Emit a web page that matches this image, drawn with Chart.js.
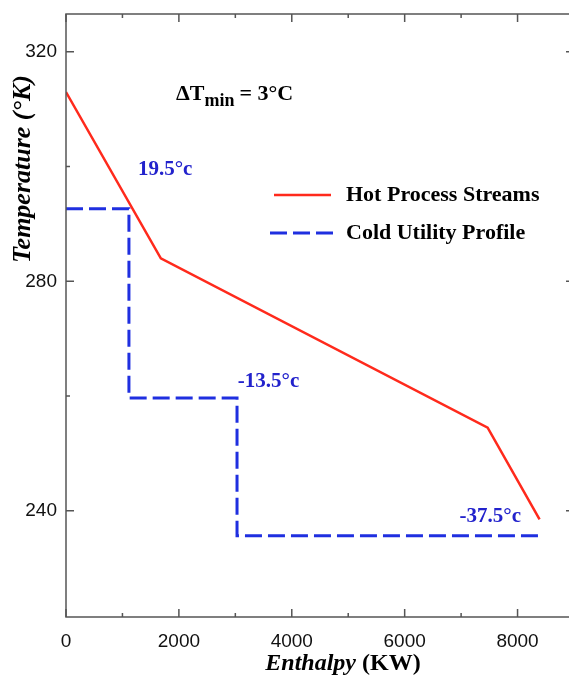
<!DOCTYPE html>
<html>
<head>
<meta charset="utf-8">
<script src="https://cdn.jsdelivr.net/npm/chart.js@4.4.1/dist/chart.umd.min.js"></script>
<style>
  html, body { margin: 0; padding: 0; background: #ffffff; overflow: hidden; }
  #wrap { position: absolute; left: 0; top: 0; width: 580px; height: 675px; }
</style>
</head>
<body>
<div id="wrap"><canvas id="chartCanvas" width="580" height="675"></canvas></div>
<script>
// Chart data

var hotX = [0, 1680, 7470, 8390]
var hotY = [313, 284, 254.5, 238.5]

var coldX = [0, 1115, 1115, 3030, 3030, 8390]
var coldY = [292.65, 292.65, 259.65, 259.65, 235.65, 235.65]

var xTicks = [0, 2000, 4000, 6000, 8000]
var yTicks = [240, 280, 320]
var xMinor = [1000, 3000, 5000, 7000, 9000]
var yMinor = [260, 300]

var tempLabels = ['19.5°c', '-13.5°c', '-37.5°c']
var tempLabelPos = [[1274, 299.4], [3044, 262.5], [6973, 239.0]]

var seriesNames = ['Hot Process Streams', 'Cold Utility Profile']

var RED = '#ff2a1c'
var BLUE = '#1f2fe0'
var AXIS = '#555555'
var SERIF = '"Liberation Serif", "Times New Roman", serif'

function toPoints(xs, ys) {
    return xs.map(function(x, i) { return { x: x, y: ys[i] } })
}

// draws the box, inward ticks, legend and text labels
var decorations = {
    id: 'decorations',
    afterDraw: function(chart) {
        var ctx = chart.ctx
        var a = chart.chartArea
        var xs = chart.scales.x
        var ys = chart.scales.y
        ctx.save()

        // frame
        ctx.strokeStyle = AXIS
        ctx.lineWidth = 1.5
        ctx.strokeRect(a.left, a.top, a.right - a.left, a.bottom - a.top)

        // ticks pointing inwards on all four sides
        function xTick(v, len) {
            var px = xs.getPixelForValue(v)
            ctx.beginPath()
            ctx.moveTo(px, a.bottom); ctx.lineTo(px, a.bottom - len)
            ctx.moveTo(px, a.top); ctx.lineTo(px, a.top + len)
            ctx.stroke()
        }
        function yTick(v, len) {
            var py = ys.getPixelForValue(v)
            ctx.beginPath()
            ctx.moveTo(a.left, py); ctx.lineTo(a.left + len, py)
            ctx.moveTo(a.right, py); ctx.lineTo(a.right - len, py)
            ctx.stroke()
        }
        xTicks.forEach(function(v) { xTick(v, 8) })
        xMinor.forEach(function(v) { xTick(v, 4) })
        yTicks.forEach(function(v) { yTick(v, 8) })
        yMinor.forEach(function(v) { yTick(v, 4) })

        // temperature labels
        ctx.fillStyle = '#2222cc'
        ctx.font = 'bold 21px ' + SERIF
        ctx.textBaseline = 'middle'
        ctx.textAlign = 'left'
        tempLabels.forEach(function(t, i) {
            var p = tempLabelPos[i]
            ctx.fillText(t, xs.getPixelForValue(p[0]), ys.getPixelForValue(p[1]))
        })

        // delta T min
        ctx.fillStyle = '#000'
        ctx.font = 'bold 22px ' + SERIF
        var tx = 176, ty = 94
        ctx.fillText('\u0394T', tx, ty)
        tx += ctx.measureText('\u0394T').width
        ctx.font = 'bold 18px ' + SERIF
        ctx.fillText('min', tx, ty + 7)
        tx += ctx.measureText('min').width + 5
        ctx.font = 'bold 22px ' + SERIF
        ctx.fillText('= 3°C', tx, ty)

        // legend
        ctx.font = 'bold 22px ' + SERIF
        ctx.lineWidth = 2.5
        ctx.strokeStyle = RED
        ctx.beginPath(); ctx.moveTo(274, 195); ctx.lineTo(331, 195); ctx.stroke()
        ctx.fillText(seriesNames[0], 346, 195)
        ctx.lineWidth = 3
        ctx.strokeStyle = BLUE
        ctx.setLineDash([17, 6])
        ctx.beginPath(); ctx.moveTo(270, 233); ctx.lineTo(333, 233); ctx.stroke()
        ctx.setLineDash([])
        ctx.fillText(seriesNames[1], 346, 233)

        // axis titles
        ctx.textBaseline = 'alphabetic'
        var t1 = 'Enthalpy '
        ctx.font = 'bold 24px ' + SERIF
        var w2 = ctx.measureText('(KW)').width
        ctx.font = 'italic bold 24px ' + SERIF
        var w1 = ctx.measureText(t1).width
        var sx = 343 - (w1 + w2) / 2
        ctx.textAlign = 'left'
        ctx.fillText(t1, sx, 670)
        ctx.font = 'bold 24px ' + SERIF
        ctx.fillText('(KW)', sx + w1, 670)

        ctx.translate(30, 169)
        ctx.rotate(-Math.PI / 2)
        ctx.font = 'italic bold 26px ' + SERIF
        ctx.textAlign = 'center'
        ctx.fillText('Temperature (°K)', 0, 0)

        ctx.restore()
    }
}

var ctx = document.getElementById('chartCanvas').getContext('2d')

var myChart = new Chart(ctx, {
    type: 'scatter',
    data: {
        datasets: [{
            label: seriesNames[0],
            data: toPoints(hotX, hotY),
            showLine: true,
            borderColor: RED,
            borderWidth: 2.5,
            pointRadius: 0,
            tension: 0
        }, {
            label: seriesNames[1],
            data: toPoints(coldX, coldY),
            showLine: true,
            borderColor: BLUE,
            borderWidth: 3,
            borderDash: [17, 6],
            pointRadius: 0,
            tension: 0
        }]
    },
    options: {
        responsive: false,
        animation: false,
        layout: { padding: { top: 14, right: 6, left: 0, bottom: 0 } },
        plugins: {
            legend: { display: false },
            tooltip: { enabled: false }
        },
        scales: {
            x: {
                type: 'linear',
                min: 0,
                max: 9000,
                afterFit: function(s) {
                    s.height = 58
                    s.paddingLeft = 0
                    s.paddingRight = 0
                },
                afterBuildTicks: function(s) { s.ticks = xTicks.map(function(v) { return { value: v } }) },
                grid: { display: false, drawTicks: false },
                border: { display: false },
                ticks: {
                    padding: 13,
                    color: '#111',
                    font: { family: '"Liberation Sans", Arial, sans-serif', size: 19 },
                    maxRotation: 0,
                    callback: function(v) { return String(v) }
                }
            },
            y: {
                type: 'linear',
                min: 221.5,
                max: 326.6,
                afterFit: function(s) {
                    s.width = 66
                    s.paddingTop = 0
                    s.paddingBottom = 0
                },
                afterBuildTicks: function(s) { s.ticks = yTicks.map(function(v) { return { value: v } }) },
                grid: { display: false, drawTicks: false },
                border: { display: false },
                ticks: {
                    padding: 9,
                    color: '#111',
                    font: { family: '"Liberation Sans", Arial, sans-serif', size: 19 },
                    callback: function(v) { return String(v) }
                }
            }
        }
    },
    plugins: [decorations]
})
</script>
</body>
</html>
